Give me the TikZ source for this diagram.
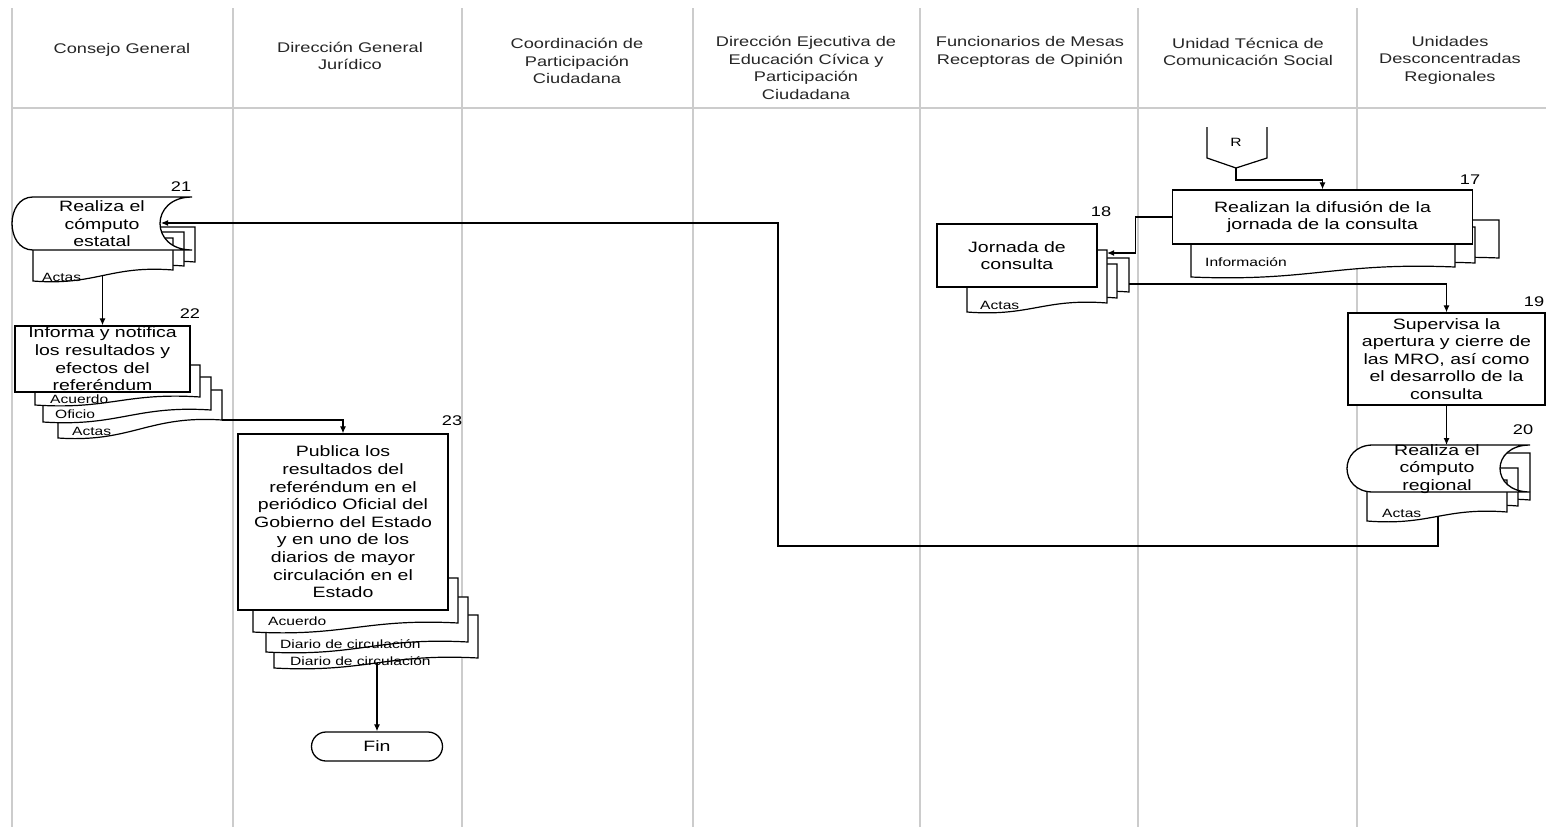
\documentclass[tikz,border=0pt]{standalone}
\usepackage{fontspec}
\setmainfont{Liberation Sans}[FakeStretch=1.3]
\usetikzlibrary{arrows.meta}
\tikzset{
 lane/.style={draw=gray!40, line width=1.5pt},
 boxst/.style={draw=black, fill=white, line width=1.3pt},
 docst/.style={draw=black, fill=white, line width=1.2pt},
 conn/.style={draw=black, line width=1.2pt},
 arr/.style={conn, -{Latex[length=7pt,width=6pt]}},
 hdr/.style={font=\fontsize{14}{17.5}\selectfont, text=black!85, align=center},
 btxt/.style={font=\fontsize{15}{17.6}\selectfont, align=center, inner sep=0pt},
 pbox/.style={boxst, btxt},
 dlab/.style={font=\fontsize{12}{13}\selectfont, anchor=west, inner sep=0pt},
 num/.style={font=\fontsize{14}{16}\selectfont, inner sep=0pt},
}
\newcommand\mydoc[5]{\filldraw[docst] (#1,#2) -- (#3,#2) -- (#3,#4) .. controls ({#3-0.45*(#3-#1)},{#4-5}) and ({#1+0.45*(#3-#1)},{#5+5}) .. (#1,#5) -- cycle;}
\newcommand\mystored[6]{\filldraw[boxst] ({#1+#5},#2) -- (#3,#2) .. controls ({#3-1.333*#6},#2) and ({#3-1.333*#6},#4) .. (#3,#4) -- ({#1+#5},#4) .. controls ({#1-0.333*#5},#4) and ({#1-0.333*#5},#2) .. ({#1+#5},#2) -- cycle;}
\begin{document}
\begin{tikzpicture}[x=1pt,y=-1pt]
\useasboundingbox (0,0) rectangle (1546,827);
\fill[white] (0,0) rectangle (1546,827);
% lanes
\foreach \lx in {12,233,462,693,920,1138,1357} {\draw[lane] (\lx,8) -- (\lx,827);}
\draw[lane] (12,108) -- (1546,108);
% headers
\node[hdr] (h1) at (122,50) {Consejo General};
\node[hdr] (h2) at (350,56) {Dirección General\\Jurídico};
\node[hdr] (h3) at (577,61) {Coordinación de\\Participación\\Ciudadana};
\node[hdr] (h4) at (806,68) {Dirección Ejecutiva de\\Educación Cívica y\\Participación\\Ciudadana};
\node[hdr] (h5) at (1030,52) {Funcionarios de Mesas\\Receptoras de Opinión};
\node[hdr] (h6) at (1248,52) {Unidad Técnica de\\Comunicación Social};
\node[hdr] (h7) at (1450,60) {Unidades\\Desconcentradas\\Regionales};

% off-page connector R
\draw[conn] (1207,127) -- (1207,158) -- (1236,168) -- (1267,158) -- (1267,127);
\node[font=\fontsize{12}{14}\selectfont] (rcon) at (1236,142) {R};
\coordinate (rbot) at (1236,168);

% box 17
\mydoc{1210}{220}{1499}{258}{268}
\mydoc{1200}{227}{1475}{263}{272}
\mydoc{1191}{232}{1455}{267}{277}
\node[pbox, minimum width=300pt, minimum height=54pt] (b17) at (1322.5,217) {Realizan la difusión de la\\jornada de la consulta};
\node[dlab] (d17) at (1205,262) {Información};
\node[num] (n17) at (1470,180) {17};

% box 18
\mydoc{985}{258}{1129}{292}{302}
\mydoc{975}{264}{1117}{298}{307}
\mydoc{967}{250}{1107}{303}{312}
\node[pbox, minimum width=160pt, minimum height=63pt] (b18) at (1017,255.5) {Jornada de\\consulta};
\node[dlab] (d18) at (980,305) {Actas};
\node[num] (n18) at (1101,212) {18};
\coordinate (s18in) at (1107,253);
\coordinate (s18out) at (1129,284);

% box 19
\node[pbox, minimum width=197pt, minimum height=92pt] (b19) at (1446.5,359) {Supervisa la\\apertura y cierre de\\las MRO, así como\\el desarrollo de la\\consulta};
\node[num] (n19) at (1534,302) {19};

% box 20
\mydoc{1390}{453}{1530}{500}{508}
\mydoc{1380}{468}{1518}{506}{514}
\mydoc{1367}{480}{1507}{512}{521}
\mystored{1347}{445}{1530}{492}{26}{30}
\node[btxt] (b20) at (1437,469) {Realiza el\\cómputo\\regional};
\node[dlab] (d20) at (1382,513) {Actas};
\node[num] (n20) at (1523,430) {20};
\coordinate (b20top) at (1446.5,445);
\coordinate (s20out) at (1438,517);
\coordinate (loopb) at (778,546);

% box 21
\mydoc{55}{227}{195}{262}{270}
\mydoc{45}{232}{184}{266}{275}
\mydoc{33}{238}{173}{270}{281}
\mystored{12}{197}{192}{250}{21}{32}
\node[btxt] (b21) at (102,224) {Realiza el\\cómputo\\estatal};
\node[dlab] (d21) at (42,277) {Actas};
\node[num] (n21) at (181,187) {21};
\coordinate (b21in) at (161,223);
\coordinate (s21out) at (102.5,276);

% box 22
\mydoc{58}{390}{222}{420}{438}
\mydoc{43}{377}{211}{410}{422}
\mydoc{35}{365}{200}{397}{405}
\node[pbox, minimum width=175pt, minimum height=66pt] (b22) at (102.5,359) {Informa y notifica\\los resultados y\\efectos del\\referéndum};
\node[dlab] (d22a) at (50,399) {Acuerdo};
\node[dlab] (d22b) at (55,414) {Oficio};
\node[dlab] (d22c) at (72,431) {Actas};
\node[num] (n22) at (190,314) {22};
\coordinate (s22out) at (222,420);

% box 23
\mydoc{274}{615}{478}{658}{668}
\mydoc{266}{597}{468}{642}{652}
\mydoc{253}{578}{458}{623}{632}
\node[pbox, minimum width=210pt, minimum height=176pt] (b23) at (343,522) {Publica los\\resultados del\\referéndum en el\\periódico Oficial del\\Gobierno del Estado\\y en uno de los\\diarios de mayor\\circulación en el\\Estado};
\node[dlab] (d23a) at (268,621) {Acuerdo};
\node[dlab] (d23b) at (280,644) {Diario de circulación};
\node[dlab] (d23c) at (290,661) {Diario de circulación};
\node[num] (n23) at (452,421) {23};
\coordinate (s23out) at (377,663);

% Fin
\node[boxst, btxt, minimum width=131pt, minimum height=29pt, rounded corners=14.5pt] (fin) at (377,746.5) {Fin};

% connectors
\draw[arr] (rbot) -- ++(0,12) -| (b17.north);
\draw[arr] (b17.west) -- ++(-36,0) |- (s18in);
\draw[arr] (s18out) -| (b19.north);
\draw[arr] (b19.south) -- (b20top);
\draw[arr] (s20out) |- (loopb) |- (b21in);
\draw[arr] (s21out) -- (b22.north);
\draw[arr] (s22out) -| (b23.north);
\draw[arr] (s23out) -- (fin.north);
\end{tikzpicture}
\end{document}
